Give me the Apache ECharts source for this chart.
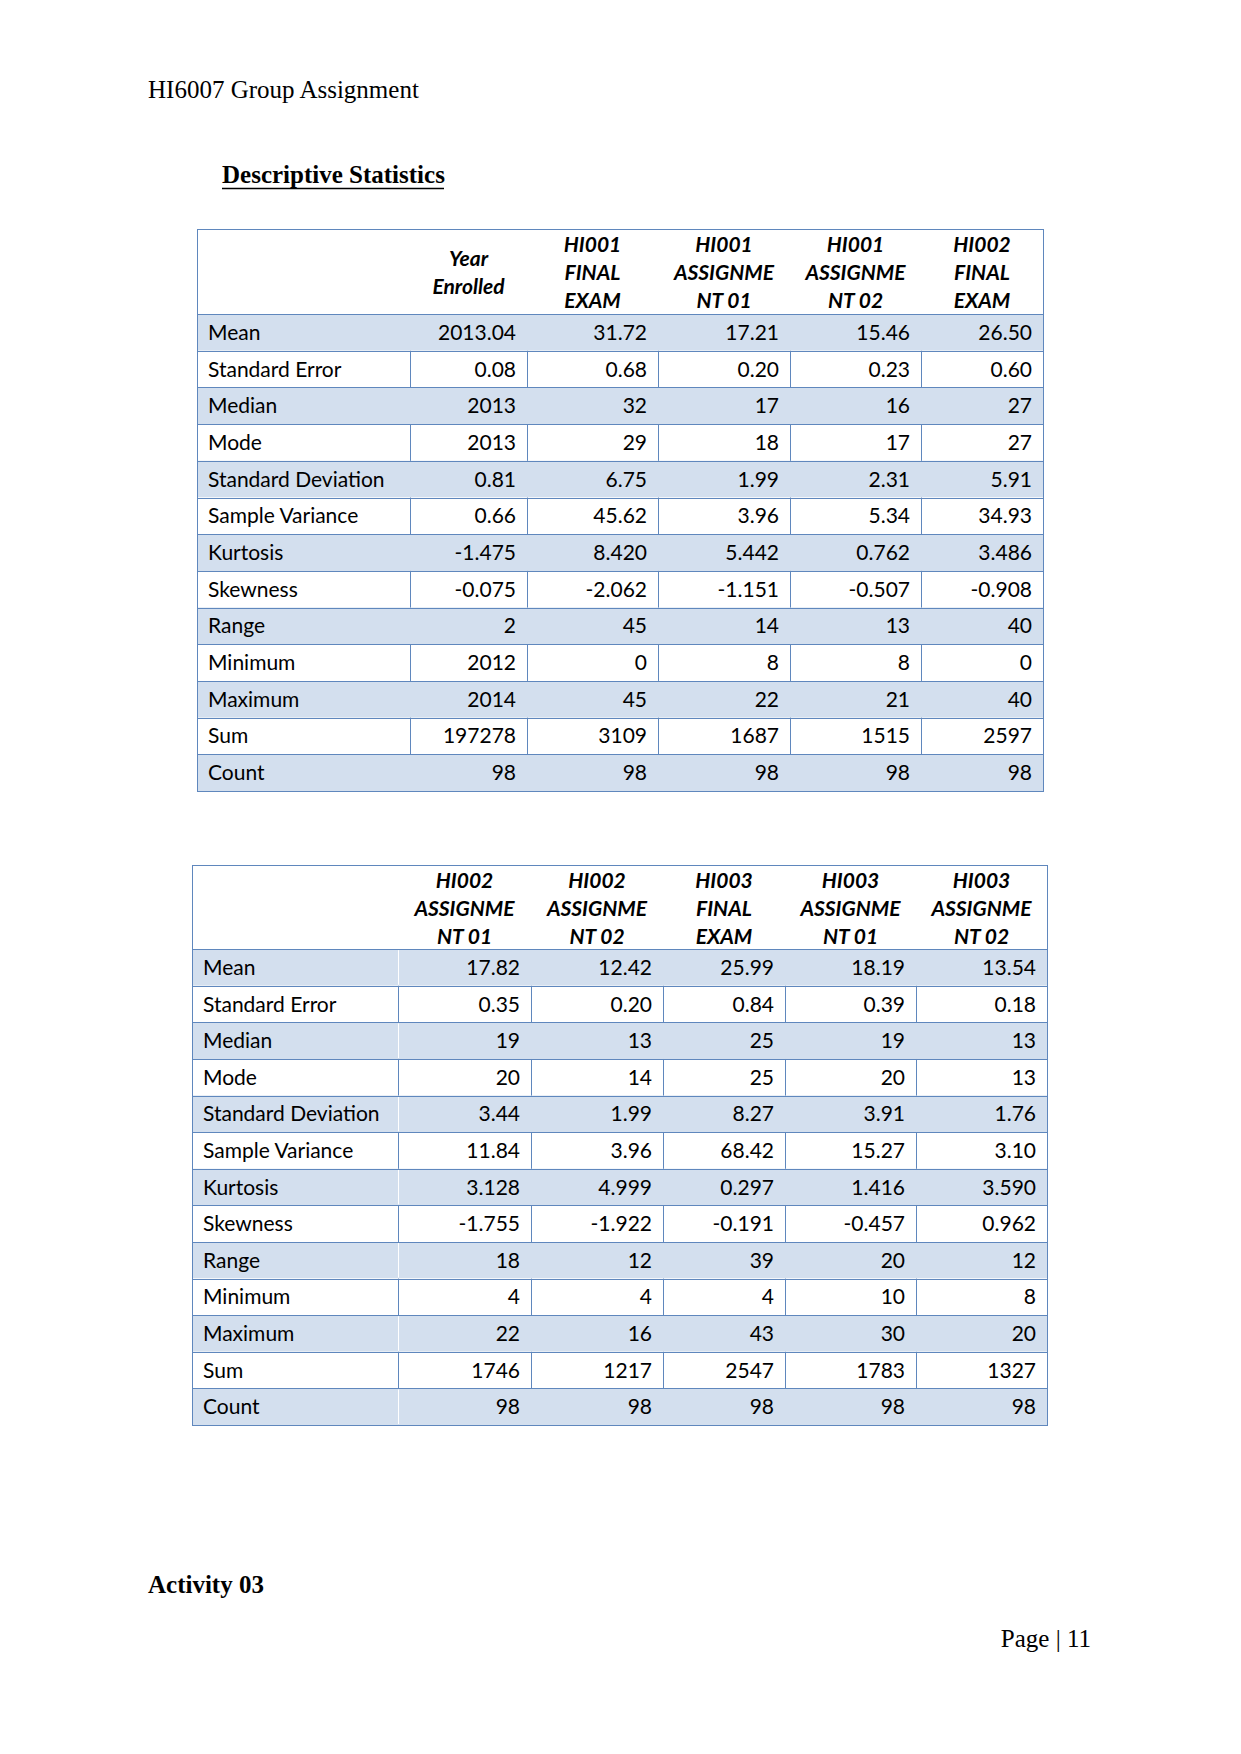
<!DOCTYPE html>
<html>
<head>
<meta charset="utf-8">
<title>HI6007 Group Assignment - Descriptive Statistics</title>
<script src="https://cdn.jsdelivr.net/npm/echarts@6.0.0/dist/echarts.min.js"></script>
<style>
  html, body { margin: 0; padding: 0; background: #fff; }
  #page { width: 1241px; height: 1754px; }
</style>
</head>
<body>
<div id="page"></div>
<script>
// row labels of both tables
const statNames = ['Mean', 'Standard Error', 'Median', 'Mode', 'Standard Deviation',
  'Sample Variance', 'Kurtosis', 'Skewness', 'Range', 'Minimum', 'Maximum', 'Sum', 'Count'];
// decimals shown for each row
const statDecimals = [2, 2, 0, 0, 2, 2, 3, 3, 0, 0, 0, 0, 0];

// table 1
const table1Headers = [['Year', 'Enrolled'], ['HI001', 'FINAL', 'EXAM'], ['HI001', 'ASSIGNME', 'NT 01'],
  ['HI001', 'ASSIGNME', 'NT 02'], ['HI002', 'FINAL', 'EXAM']];
const yearEnrolled = [2013.04, 0.08, 2013, 2013, 0.81, 0.66, -1.475, -0.075, 2, 2012, 2014, 197278, 98];
const hi001Final = [31.72, 0.68, 32, 29, 6.75, 45.62, 8.420, -2.062, 45, 0, 45, 3109, 98];
const hi001Assign1 = [17.21, 0.20, 17, 18, 1.99, 3.96, 5.442, -1.151, 14, 8, 22, 1687, 98];
const hi001Assign2 = [15.46, 0.23, 16, 17, 2.31, 5.34, 0.762, -0.507, 13, 8, 21, 1515, 98];
const hi002Final = [26.50, 0.60, 27, 27, 5.91, 34.93, 3.486, -0.908, 40, 0, 40, 2597, 98];

// table 2
const table2Headers = [['HI002', 'ASSIGNME', 'NT 01'], ['HI002', 'ASSIGNME', 'NT 02'], ['HI003', 'FINAL', 'EXAM'],
  ['HI003', 'ASSIGNME', 'NT 01'], ['HI003', 'ASSIGNME', 'NT 02']];
const hi002Assign1 = [17.82, 0.35, 19, 20, 3.44, 11.84, 3.128, -1.755, 18, 4, 22, 1746, 98];
const hi002Assign2 = [12.42, 0.20, 13, 14, 1.99, 3.96, 4.999, -1.922, 12, 4, 16, 1217, 98];
const hi003Final = [25.99, 0.84, 25, 25, 8.27, 68.42, 0.297, -0.191, 39, 4, 43, 2547, 98];
const hi003Assign1 = [18.19, 0.39, 19, 20, 3.91, 15.27, 1.416, -0.457, 20, 10, 30, 1783, 98];
const hi003Assign2 = [13.54, 0.18, 13, 13, 1.76, 3.10, 3.590, 0.962, 12, 8, 20, 1327, 98];

// layout of the two tables on the page
const tables = [
  {
    box: { left: 197, top: 229, width: 846, height: 562 },
    colWidths: [213, 117, 131, 132, 131, 122],
    headerRows: 2.32,
    headers: table1Headers,
    columns: [yearEnrolled, hi001Final, hi001Assign1, hi001Assign2, hi002Final],
    whiteDivider: false
  },
  {
    box: { left: 192, top: 865, width: 855, height: 560 },
    colWidths: [206, 133, 132, 122, 131, 131],
    headerRows: 2.30,
    headers: table2Headers,
    columns: [hi002Assign1, hi002Assign2, hi003Final, hi003Assign1, hi003Assign2],
    whiteDivider: true
  }
];

const SHADE = '#D3DFEE';
const BORDER = '#5F87BD';
const BODY_FONT = 'Lato, "Noto Sans", sans-serif';
const FONT_SIZE = 21;

function px(v) { return Math.round(v) + 0.5; }

function makeRender(t) {
  const edges = [0];
  t.colWidths.forEach(function (w) { edges.push(edges[edges.length - 1] + w); });
  const lastCol = t.colWidths.length - 1;
  return function (params, api) {
    const c = api.value(0);
    const r = api.value(1);
    const isHeader = r < 0;
    const y0v = isHeader ? -t.headerRows : r;
    const y1v = isHeader ? 0 : r + 1;
    const p0 = api.coord([edges[c], y0v]);
    const p1 = api.coord([edges[c + 1], y1v]);
    const x0 = p0[0], y0 = p0[1], x1 = p1[0], y1 = p1[1];
    const shaded = !isHeader && r % 2 === 0;
    const children = [];

    children.push({
      type: 'rect', z2: 0,
      shape: { x: x0, y: y0, width: x1 - x0, height: y1 - y0 },
      style: { fill: shaded ? SHADE : '#fff' }
    });

    // horizontal line below every row
    children.push({
      type: 'line', z2: 10,
      shape: { x1: x0, y1: px(y1), x2: x1, y2: px(y1) },
      style: { stroke: BORDER, lineWidth: 1 }
    });
    if (isHeader) {
      children.push({
        type: 'line', z2: 10,
        shape: { x1: x0, y1: px(y0), x2: x1, y2: px(y0) },
        style: { stroke: BORDER, lineWidth: 1 }
      });
    }
    if (c === 0) {
      children.push({
        type: 'line', z2: 11,
        shape: { x1: px(x0), y1: y0, x2: px(x0), y2: y1 + 1 },
        style: { stroke: BORDER, lineWidth: 1 }
      });
    }
    if (c === lastCol) {
      children.push({
        type: 'line', z2: 11,
        shape: { x1: px(x1), y1: y0, x2: px(x1), y2: y1 + 1 },
        style: { stroke: BORDER, lineWidth: 1 }
      });
    } else if (!isHeader && !shaded) {
      children.push({
        type: 'line', z2: 9,
        shape: { x1: px(x1), y1: y0, x2: px(x1), y2: y1 },
        style: { stroke: BORDER, lineWidth: 1 }
      });
    } else if (shaded && c === 0 && t.whiteDivider) {
      children.push({
        type: 'line', z2: 9,
        shape: { x1: px(x1), y1: y0 + 1, x2: px(x1), y2: y1 - 1 },
        style: { stroke: '#fff', lineWidth: 1 }
      });
    }

    const text = api.value(2);
    if (text !== '' && text != null) {
      let style;
      if (isHeader) {
        style = {
          text: String(text).split('|').join('\n'),
          x: (x0 + x1) / 2, y: (y0 + y1) / 2,
          align: 'center', verticalAlign: 'middle',
          fontFamily: BODY_FONT, fontSize: FONT_SIZE, fontWeight: 'bold', fontStyle: 'italic',
          lineHeight: 28, fill: '#000'
        };
      } else if (c === 0) {
        style = {
          text: text, x: x0 + 11, y: (y0 + y1) / 2 - 1,
          align: 'left', verticalAlign: 'middle',
          fontFamily: BODY_FONT, fontSize: FONT_SIZE, fill: '#000'
        };
      } else {
        style = {
          text: text, x: x1 - 11, y: (y0 + y1) / 2 - 1,
          align: 'right', verticalAlign: 'middle',
          fontFamily: BODY_FONT, fontSize: FONT_SIZE, fill: '#000'
        };
      }
      children.push({ type: 'text', z2: 20, style: style });
    }
    return { type: 'group', children: children };
  };
}

function tableData(t) {
  const data = [];
  data.push([0, -1, '']);
  t.headers.forEach(function (h, i) { data.push([i + 1, -1, h.join('|')]); });
  statNames.forEach(function (name, r) {
    data.push([0, r, name]);
    t.columns.forEach(function (col, i) {
      data.push([i + 1, r, col[r].toFixed(statDecimals[r])]);
    });
  });
  return data;
}

const grids = [], xAxes = [], yAxes = [], series = [];
tables.forEach(function (t, i) {
  const total = t.colWidths.reduce(function (a, b) { return a + b; }, 0);
  grids.push(Object.assign({ containLabel: false }, t.box));
  xAxes.push({ type: 'value', gridIndex: i, min: 0, max: total, show: false });
  yAxes.push({ type: 'value', gridIndex: i, min: -t.headerRows, max: statNames.length, inverse: true, show: false });
  series.push({
    type: 'custom',
    xAxisIndex: i, yAxisIndex: i,
    renderItem: makeRender(t),
    encode: { x: 0, y: 1 },
    dimensions: ['col', 'row', { name: 'text', type: 'ordinal' }],
    silent: true,
    animation: false,
    clip: false,
    data: tableData(t)
  });
});

const SERIF = '"Liberation Serif", "DejaVu Serif", serif';
const chart = echarts.init(document.getElementById('page'), null, { renderer: 'svg' });
chart.setOption({
  backgroundColor: '#fff',
  animation: false,
  grid: grids,
  xAxis: xAxes,
  yAxis: yAxes,
  series: series,
  graphic: [
    {
      type: 'text', left: 148, top: 77,
      style: { text: 'HI6007 Group Assignment', font: '25px ' + SERIF, fill: '#000' }
    },
    {
      type: 'text', left: 222, top: 162,
      style: { text: 'Descriptive Statistics', font: 'bold 25px ' + SERIF, fill: '#000' }
    },
    {
      type: 'line',
      shape: { x1: 222, y1: 188.5, x2: 444, y2: 188.5 },
      style: { stroke: '#000', lineWidth: 1.5 }
    },
    {
      type: 'text', left: 148, top: 1572,
      style: { text: 'Activity 03', font: 'bold 25px ' + SERIF, fill: '#000' }
    },
    {
      type: 'text', right: 150, top: 1626,
      style: { text: 'Page | 11', font: '25px ' + SERIF, fill: '#000' }
    }
  ]
});
window.addEventListener('resize', function () { chart.resize(); });
</script>
</body>
</html>
